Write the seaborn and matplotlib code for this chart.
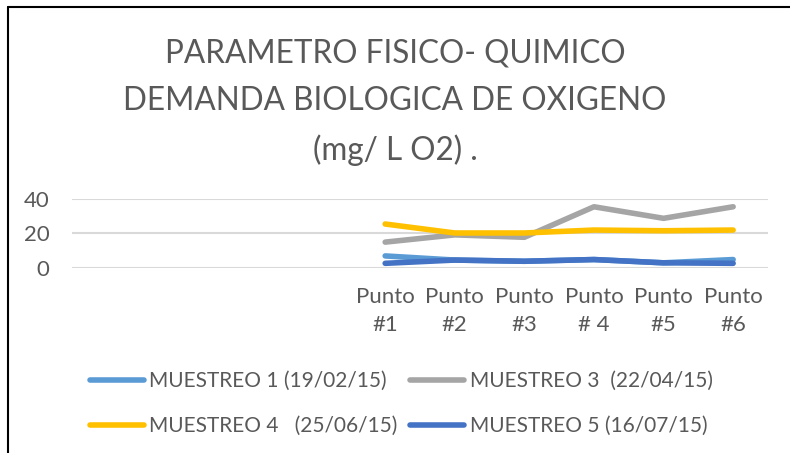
import pandas as pd
import seaborn as sns
import matplotlib.pyplot as plt
from matplotlib.lines import Line2D

# Categories (first four slots are empty in the original chart)
categorias = ["", "", "", "", "Punto\n#1", "Punto\n#2", "Punto\n#3",
              "Punto\n# 4", "Punto\n#5", "Punto\n#6"]
puntos = categorias[4:]

# Values (mg/L O2)
muestreo_1 = [7.0, 4.6, 3.9, 4.9, 3.0, 4.9]
muestreo_3 = [15.0, 19.2, 17.8, 35.5, 28.8, 35.5]
muestreo_4 = [25.5, 20.3, 20.3, 22.0, 21.6, 22.0]
muestreo_5 = [2.7, 4.6, 3.9, 4.9, 3.0, 2.7]

series = ["MUESTREO 1 (19/02/15)", "MUESTREO 3  (22/04/15)",
          "MUESTREO 4   (25/06/15)", "MUESTREO 5 (16/07/15)"]
colores = ["#5B9BD5", "#A5A5A5", "#FFC000", "#4472C4"]

# Build long table
filas = []
for nombre, vals in zip(series, [muestreo_1, muestreo_3, muestreo_4, muestreo_5]):
    for p, v in zip(puntos, vals):
        filas.append({"serie": nombre, "pos": categorias.index(p), "valor": v})
df = pd.DataFrame(filas)

sns.set_theme(style="white")
plt.rcParams["font.family"] = ["Lato", "DejaVu Sans"]
gris = "#595959"

fig = plt.figure(figsize=(7.9, 4.53), dpi=100)
ax = fig.add_axes([0.0911, 0.4084, 0.881, 0.1523])

sns.lineplot(data=df, x="pos", y="valor", hue="serie", palette=colores,
             hue_order=series, linewidth=4.0, sort=False, ax=ax, legend=False)
for ln in ax.lines:
    ln.set_solid_capstyle("round")
    ln.set_solid_joinstyle("round")

ax.set_xlim(-0.5, len(categorias) - 0.5)
ax.set_ylim(0, 40)
ax.set_yticks([0, 20, 40])
ax.set_xticks(range(len(categorias)))
ax.set_xticklabels(categorias, linespacing=1.45)
ax.yaxis.grid(True, color="#D9D9D9", linewidth=1.5)
ax.set_axisbelow(True)
for s in ax.spines.values():
    s.set_visible(False)
ax.tick_params(axis="both", length=0, colors=gris, labelsize=16)
ax.tick_params(axis="x", pad=14)
ax.tick_params(axis="y", pad=16)
ax.set_xlabel("")
ax.set_ylabel("")

fig.text(0.5, 0.775, "PARAMETRO FISICO- QUIMICO\nDEMANDA BIOLOGICA DE OXIGENO\n(mg/ L O2) .",
         ha="center", va="center", fontsize=22.7, color=gris, linespacing=1.72)

# legend fills column-wise: reorder so rows read M1, M3 / M4, M5
orden = [0, 2, 1, 3]
handles = [Line2D([0], [0], color=colores[i], linewidth=4.0, solid_capstyle="round") for i in orden]
leg = fig.legend(handles, [series[i] for i in orden], loc="center",
                 bbox_to_anchor=(0.508, 0.109), ncol=2, frameon=False, fontsize=15,
                 handlelength=2.6, handletextpad=0.25, columnspacing=0.6,
                 labelspacing=1.2)
for t in leg.get_texts():
    t.set_color(gris)

# Chart frame (left and top edges visible)
fig.add_artist(Line2D([8 / 790, 8 / 790], [0, 1 - 7 / 453], transform=fig.transFigure,
                      color="black", linewidth=1.5))
fig.add_artist(Line2D([8 / 790, 1], [1 - 7 / 453, 1 - 7 / 453], transform=fig.transFigure,
                      color="black", linewidth=1.5))

fig.savefig("out.png", dpi=100)
